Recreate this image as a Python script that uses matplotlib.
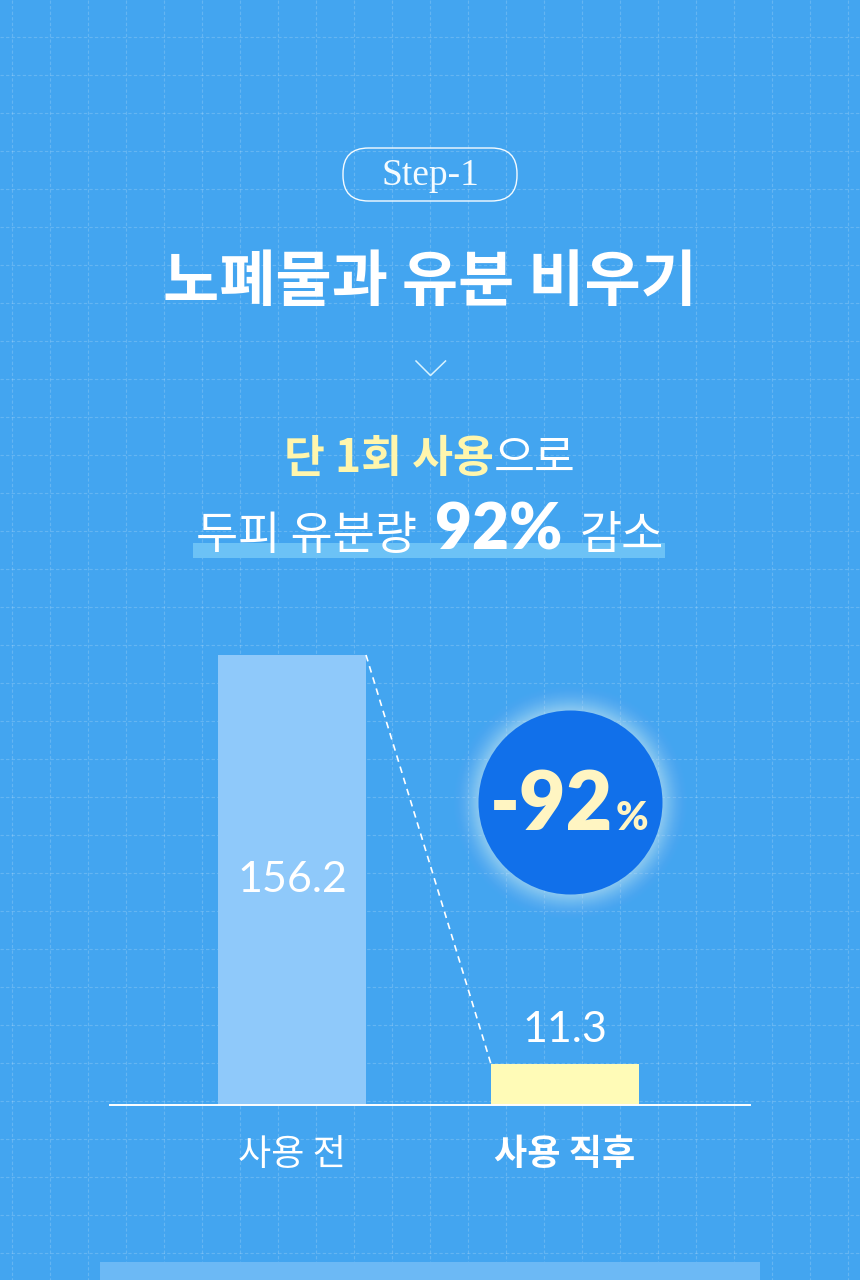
import numpy as np
import matplotlib
matplotlib.use("Agg")
import matplotlib.pyplot as plt
from matplotlib.patches import Circle, FancyBboxPatch, Rectangle

# data
categories = ["사용 전", "사용 직후"]
values = [156.2, 11.3]
y_floor = -3.2
reduction_label = "-92"
step_label = "Step-1"
title = "노폐물과 유분 비우기"

KR = "Noto Sans CJK KR"
NUM = "Lato"
BG = "#43a5f0"
YELLOW = "#fff6ad"
CREAM = "#fff5c2"

W, H = 860, 1280
fig = plt.figure(figsize=(W / 100, H / 100), dpi=100)
fig.patch.set_facecolor(BG)

# background axes in pixel coordinates
bg = fig.add_axes([0, 0, 1, 1])
bg.set_xlim(0, W)
bg.set_ylim(H, 0)
bg.axis("off")
bg.set_facecolor(BG)

# dashed grid
for gx in np.arange(12.3, W, 38):
    bg.plot([gx, gx], [0, H], color="white", alpha=0.18, lw=0.8,
            dashes=(3, 2), zorder=0)
for gy in np.arange(36.7, H, 38):
    bg.plot([0, W], [gy, gy], color="white", alpha=0.18, lw=0.8,
            dashes=(3, 2), zorder=0)

renderer = fig.canvas.get_renderer()


def draw_runs(ax, xc, y, runs, gap=0):
    # place several text pieces on one baseline, centred on xc
    texts = [ax.text(0, y, s, ha="left", va="baseline", **kw) for s, kw in runs]
    widths = [t.get_window_extent(renderer).width for t in texts]
    total = sum(widths) + gap * (len(texts) - 1)
    x = xc - total / 2
    for t, w in zip(texts, widths):
        t.set_x(x)
        x += w + gap
    return texts


# Step pill
pill = FancyBboxPatch((369, 174), 122, 1, boxstyle="round,pad=26,rounding_size=25.5",
                      fc="none", ec="#f4fbff", lw=1.0, zorder=3)
bg.add_patch(pill)
bg.text(430, 176, step_label, ha="center", va="center", color="#f4fbff",
        fontsize=27, family="Liberation Serif", zorder=4)

# title
bg.text(430, 283, title, ha="center", va="center", color="white",
        fontsize=44, fontweight="bold", family=KR, zorder=4)

# chevron
bg.plot([416, 430.5, 445.5], [361, 375.5, 361], color="#d8f3ff", lw=1.1, zorder=4)

# headline
draw_runs(bg, 430, 472, [
    ("단 1회 사용", dict(color=YELLOW, fontsize=32, fontweight="bold", family=KR)),
    ("으로", dict(color="white", fontsize=32, family=KR)),
])
bg.add_patch(Rectangle((193, 543), 472, 15, fc="#6cc2f6", ec="none", zorder=2))
draw_runs(bg, 430, 549, [
    ("두피 유분량", dict(color="white", fontsize=33, family=KR, zorder=4)),
    ("92%", dict(color="white", fontsize=46, fontweight="heavy", family=NUM, zorder=4)),
    ("감소", dict(color="white", fontsize=33, family=KR, zorder=4)),
], gap=18)

# glowing circle
cx, cy, r = 570.5, 802.5, 92
for i in range(32, 0, -1):
    bg.add_patch(Circle((cx, cy), r + i, fc="#d2f4ff", ec="none",
                        alpha=0.06 * (1 - i / 33) ** 1.5, zorder=2))
bg.add_patch(Circle((cx, cy), r, fc="#1170ea", ec="none", zorder=3))
draw_runs(bg, 569, 830, [
    (reduction_label, dict(color=CREAM, fontsize=58, fontweight="heavy", family=NUM, zorder=4)),
    ("%", dict(color=CREAM, fontsize=28, fontweight="heavy", family=NUM, zorder=4)),
], gap=2)

# bottom panel
bg.add_patch(Rectangle((100, 1262), 660, 30, fc="#6cb9f5", ec="none", zorder=2))

# bar chart axes
ax = fig.add_axes([110 / W, (H - 1105) / H, 640 / W, (1105 - 655) / H])
ax.patch.set_alpha(0)
ax.set_xlim(-0.667, 1.678)
ax.set_ylim(y_floor, values[0])
ax.axis("off")

xs = np.arange(len(values))
bw = 0.542
heights = np.array(values) - y_floor
ax.bar(xs, heights, bottom=y_floor, width=bw, color=["#8fc9fa", "#fffbb7"],
       zorder=3)
ax.plot([xs[0] + bw / 2, xs[1] - bw / 2], values, color="white", lw=1.2,
        dashes=(4, 3), zorder=3, clip_on=False)
ax.plot([-0.667, 1.678], [y_floor, y_floor], color="white", lw=1.4,
        zorder=4, clip_on=False)

ax.text(xs[0], (values[0] + y_floor) / 2, f"{values[0]}", ha="center", va="center",
        color="white", fontsize=31, family=NUM, zorder=5)
ax.annotate(f"{values[1]}", (xs[1], values[1]), xytext=(0, 11),
            textcoords="offset points", ha="center", va="bottom",
            color="white", fontsize=31, family=NUM, zorder=5)

for i, c in enumerate(categories):
    ax.annotate(c, (xs[i], y_floor), xytext=(0, -36), textcoords="offset points",
                ha="center", va="center", color="white", fontsize=26, family=KR,
                fontweight="bold" if i == 1 else "normal",
                annotation_clip=False)

fig.savefig("out.png", dpi=100, facecolor=BG)
